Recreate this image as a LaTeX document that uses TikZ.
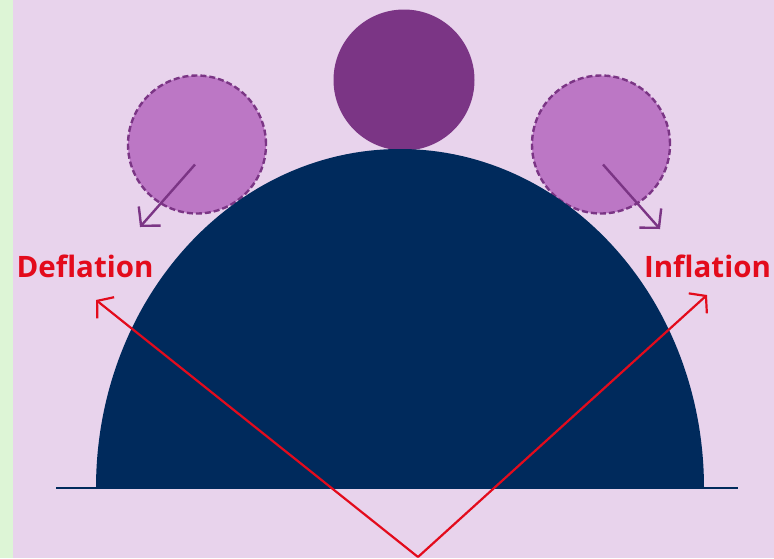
\documentclass[tikz,border=0pt]{standalone}
\usepackage{fontspec}
\setmainfont{Open Sans}
\usepackage{tikz}
\usetikzlibrary{calc,arrows.meta,positioning}
\definecolor{bgc}{HTML}{E8D3EC}
\definecolor{stripc}{HTML}{DDF5D6}
\definecolor{navyc}{HTML}{002A5C}
\definecolor{ballc}{HTML}{7B3585}
\definecolor{ghostc}{HTML}{BC77C5}
\definecolor{redc}{HTML}{E30B1C}
\tikzset{
  ball/.style={circle,fill=ballc,minimum size=141pt,inner sep=0pt},
  ghost/.style={circle,fill=ghostc,draw=ballc,line width=2.4pt,dash pattern=on 6pt off 3pt,minimum size=138pt,inner sep=0pt},
  roll/.style={-{Straight Barb[length=13pt,width=29pt]},line width=2.4pt,ballc},
  ar/.style={-{Straight Barb[length=11pt,width=27pt]},line width=2.2pt,redc},
  lbl/.style={font=\bfseries\fontsize{29.5}{34}\selectfont,text=redc,anchor=base}
}
\begin{document}
\begin{tikzpicture}[x=1pt,y=-1pt]
\useasboundingbox (0,0) rectangle (774,558);
\fill[bgc] (0,0) rectangle (774,558);
\fill[stripc] (0,0) rectangle (13,558);
% balls
\node[ball] (top) at (404,80) {};
\node[ghost] (gl) at (197,144.5) {};
\node[ghost] (gr) at (601,144.5) {};
% hill
\fill[navyc] (96,488) arc[start angle=180,end angle=360,x radius=304,y radius=339] -- cycle;
\draw[navyc,line width=2pt] (56,488) -- (738,488);
% rolling directions
\coordinate (gld) at (140,227);
\coordinate (grd) at (660,229);
\draw[roll] ($(gl.center)+(-2,20)$) -- (gld);
\draw[roll] ($(gr.center)+(2,20)$) -- (grd);
% labels and red arrows
\node[lbl] (defl) at (85,277) {Deflation};
\node[lbl] (infl) at (707.5,277) {Inflation};
\coordinate (apex) at (418,557);
\coordinate (dtip) at (96,300);
\coordinate (itip) at (707,295);
\draw[ar] (apex) -- (dtip);
\draw[ar] (apex) -- (itip);
\end{tikzpicture}
\end{document}
